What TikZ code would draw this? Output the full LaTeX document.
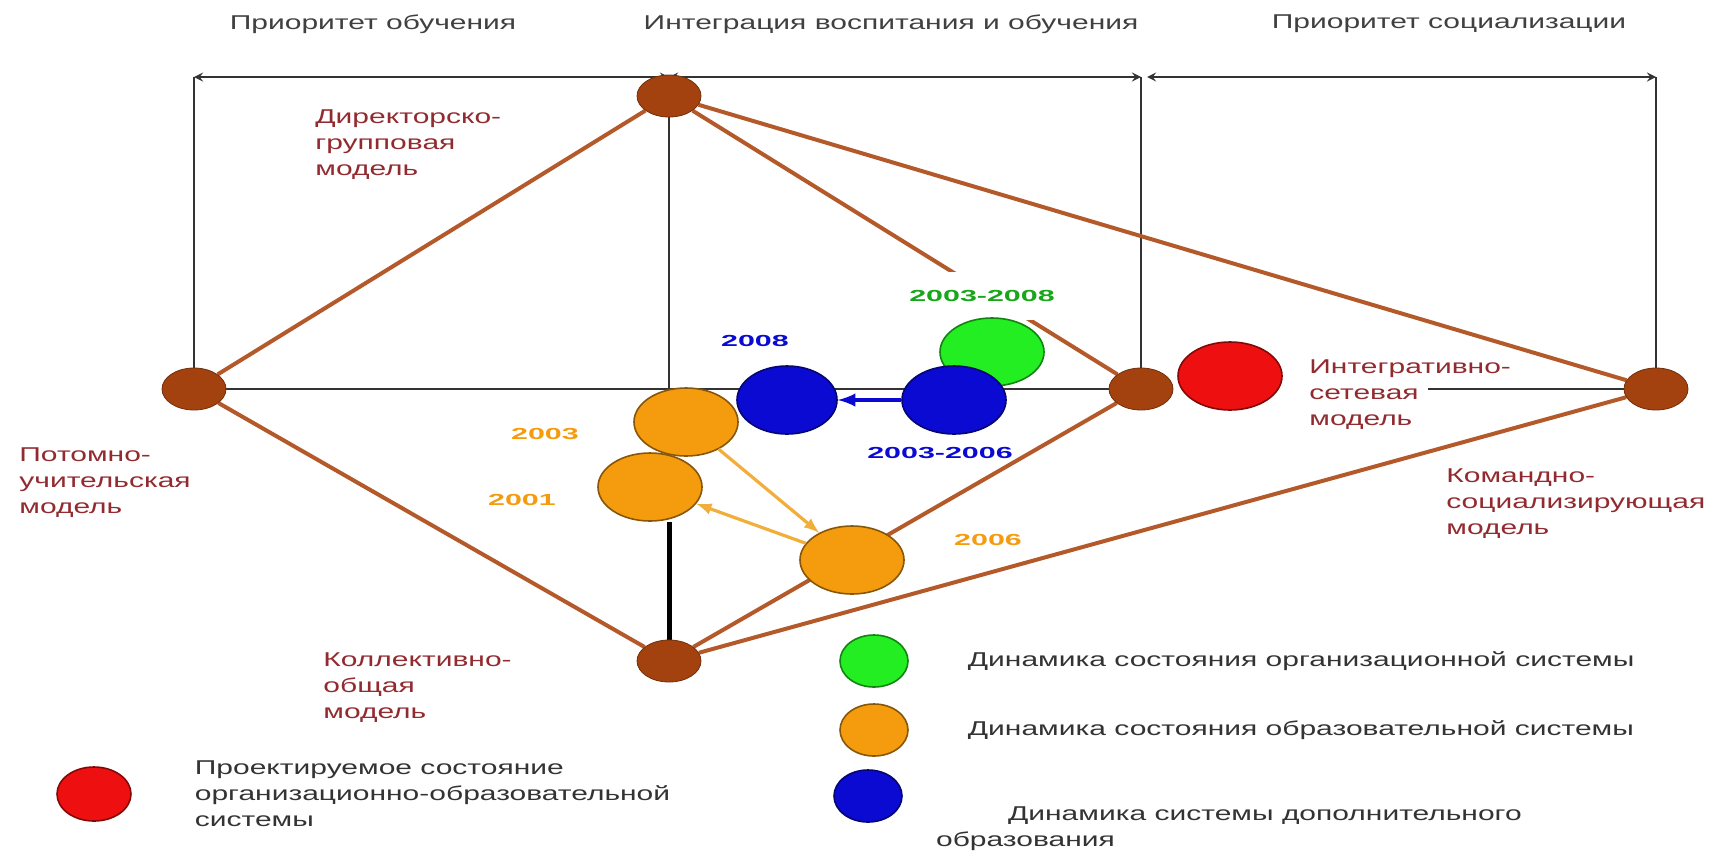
\documentclass[tikz,border=0pt]{standalone}
\usepackage{fontspec}
\setmainfont{Liberation Sans}[FakeStretch=1.5]
\newfontfamily\yearfont{Liberation Sans}[FakeStretch=1.9]
\usepackage{xcolor}
\usetikzlibrary{positioning, shapes.geometric, backgrounds}

\definecolor{modelbrown}{HTML}{A3420E}
\definecolor{linkbrown}{HTML}{B45A2A}
\definecolor{labelred}{HTML}{922B30}
\definecolor{stgreen}{HTML}{22EE22}
\definecolor{storange}{HTML}{F59C0E}
\definecolor{stblue}{HTML}{0A0AD2}
\definecolor{stred}{HTML}{EE1010}
\definecolor{arrorange}{HTML}{F2AE3A}

\begin{document}
\begin{tikzpicture}[x=0.5pt, y=-0.5pt, font=\fontsize{10}{13}\selectfont,
    model/.style={ellipse, draw=modelbrown!70!black, fill=modelbrown, minimum width=32pt, minimum height=21pt, inner sep=0pt},
    state/.style={ellipse, draw=#1!55!black, fill=#1, thick, minimum width=52pt, minimum height=34pt, inner sep=0pt},
    legdot/.style={state=#1, minimum width=34pt, minimum height=26pt},
    link/.style={linkbrown, line width=2pt},
    modeltext/.style={labelred, align=left, anchor=west, inner sep=1pt},
    year/.style={font=\yearfont\fontsize{8}{9}\selectfont\bfseries, text=#1, inner sep=1pt},
    head/.style={text=black!75},
    legtext/.style={text=black!80, align=left}]
  \useasboundingbox (0,0) rectangle (1734,852);

  \coordinate (fl) at (194,77);
  \coordinate (fm) at (669,77);
  \coordinate (fr) at (1141,77);
  \coordinate (fs) at (1147,77);
  \coordinate (fe) at (1656,77);
  \coordinate (netend) at (1428,389);

  \node[head] (h1) at (373,24) {Приоритет обучения};
  \node[head] (h2) at (891,24) {Интеграция воспитания и обучения};
  \node[head] (h3) at (1449,24) {Приоритет социализации};

  \node[model] (dir) at (669,96) {};
  \node[model] (pot) at (194,389) {};
  \node[model] (int) at (1141,389) {};
  \node[model] (kom) at (1656,389) {};
  \node[model] (kol) at (669,661) {};

  \node[modeltext] (tdir) at (313,145) {Директорско-\\групповая\\модель};
  \node[modeltext] (tpot) at (17,483) {Потомно-\\учительская\\модель};
  \node[modeltext] (tkol) at (321,688) {Коллективно-\\общая\\модель};
  \node[modeltext] (tint) at (1307,395) {Интегративно-\\сетевая\\модель};
  \node[modeltext] (tkom) at (1444,504) {Командно-\\социализирующая\\модель};

  \node[year=stgreen!70!black, fill=white, inner xsep=3pt, inner ysep=9pt] (y1) at (982,296) {2003-2008};
  \node[state=stgreen] (g1) at (992,352) {};
  \node[state=stblue] (b2) at (954,400) {};
  \node[state=stblue, minimum width=50pt] (b1) at (787,400) {};
  \node[state=stred] (r1) at (1230,376) {};
  \node[state=storange] (o1) at (686,422) {};
  \node[state=storange] (o2) at (650,487) {};
  \node[state=storange] (o3) at (852,560) {};

  \node[year=stblue] (y2) at (755,341) {2008};
  \node[year=stblue] (y3) at (940,453) {2003-2006};
  \node[year=storange] (y4) at (545,434) {2003};
  \node[year=storange] (y5) at (522,500) {2001};
  \node[year=storange] (y6) at (988,540) {2006};

  \draw[-latex, stblue, line width=2pt] (b2) -- (b1);
  \draw[-latex, arrorange, line width=1.6pt] (o1) -- (o3);
  \draw[-latex, arrorange, line width=1.6pt] (o3) -- (o2);

  \node[legdot=stgreen] (lg) at (874,661) {};
  \node[legdot=storange] (lo) at (874,730) {};
  \node[legdot=stblue] (lb) at (868,796) {};
  \node[legdot=stred, minimum width=37pt, minimum height=27pt] (lr) at (94,794) {};
  \node[legtext, right=26pt of lg] (tlg) {Динамика состояния организационной системы};
  \node[legtext, right=26pt of lo] (tlo) {Динамика состояния образовательной системы};
  \node[legtext, anchor=north west] (tlb) at (929,800) {\hspace*{36pt}Динамика системы дополнительного\\образования};
  \node[legtext, right=28pt of lr] (tlr) {Проектируемое состояние\\организационно-образовательной\\системы};

  \begin{scope}[on background layer]
    \draw[<->, >=stealth, black!80, line width=1pt] (fl) -- (fm);
    \draw[<->, >=stealth, black!80, line width=1pt] (fm) -- (fr);
    \draw[<->, >=stealth, black!80, line width=1pt] (fs) -- (fe);
    \draw[black!80, line width=1pt] (fl) -- (pot.center);
    \draw[black!80, line width=1pt] (fm) -- (fm |- o1.center);
    \draw[black!80, line width=1pt] (fr) -- (int.center);
    \draw[black!80, line width=1pt] (fe) -- (kom.center);
    \draw[black!80, line width=1pt] (pot.center) -- (int.center);
    \draw[black!80, line width=1pt] (netend) -- (kom.center);
    \draw[black, line width=2.5pt] (kol |- o2.south) -- (kol);
    \draw[link] (dir) -- (pot);
    \draw[link] (dir) -- (kom);
    \draw[link] (dir) -- (int);
    \draw[link] (pot) -- (kol);
    \draw[link] (kol) -- (int);
    \draw[link] (kol) -- (kom);
  \end{scope}
\end{tikzpicture}
\end{document}
